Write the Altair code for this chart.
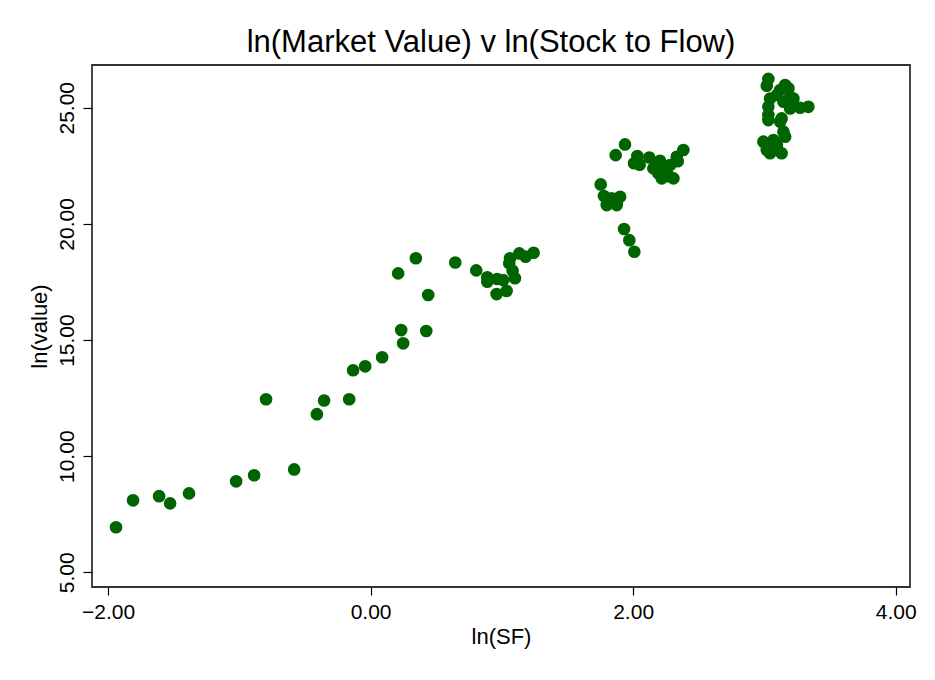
import altair as alt
import pandas as pd

ln_sf = [
    -1.939, -1.809, -1.611, -1.527, -1.383, -1.024, -0.887, -0.582, -0.796, -0.409,
    -0.354, -0.163, -0.133, -0.041, 0.088, 0.233, 0.248, 0.424, 0.439, 0.210,
    0.345, 0.645, 0.805, 0.889, 0.889, 0.965, 1.011, 0.960, 1.036, 1.100,
    1.082, 1.062, 1.056, 1.133, 1.181, 1.242,
    1.938, 1.867, 2.032, 2.007, 2.123, 2.205, 2.154, 2.230, 2.281, 2.218,
    2.307, 2.332, 2.383, 2.256, 2.192, 2.050, 2.270, 2.340, 1.753, 1.778,
    1.799, 1.837, 1.875, 1.901, 1.824, 1.931, 1.971, 2.009,
    3.030, 3.018, 3.158, 3.183, 3.120, 3.196, 3.221, 3.043, 3.145, 3.030,
    3.196, 3.272, 3.335, 3.095, 3.030, 3.030, 3.131, 3.120, 3.145, 3.158,
    2.992, 3.069, 3.095, 3.043, 3.131, 3.018,
]
ln_value = [
    6.94, 8.10, 8.28, 7.97, 8.40, 8.92, 9.18, 9.43, 12.45, 11.81,
    12.40, 12.45, 13.70, 13.87, 14.26, 15.43, 14.86, 15.39, 16.94, 17.87,
    18.52, 18.34, 18.00, 17.70, 17.51, 17.63, 17.58, 16.98, 17.11, 17.66,
    17.98, 18.52, 18.30, 18.73, 18.59, 18.76,
    23.42, 22.96, 22.92, 22.61, 22.86, 22.72, 22.39, 22.46, 22.53, 21.96,
    21.96, 22.89, 23.18, 22.25, 22.18, 22.55, 22.05, 22.70, 21.70, 21.20,
    20.81, 21.10, 20.81, 21.17, 20.95, 19.78, 19.30, 18.80,
    26.24, 25.95, 25.98, 25.84, 25.76, 25.47, 25.40, 25.40, 25.26, 25.04,
    24.97, 25.00, 25.04, 25.55, 24.69, 24.47, 24.54, 24.40, 23.97, 23.75,
    23.54, 23.61, 23.39, 23.04, 23.04, 23.18,
]
x_ticks = [-2, 0, 2, 4]
y_ticks = [5, 10, 15, 20, 25]

df = pd.DataFrame({"ln_sf": ln_sf, "ln_value": ln_value})

FONT = "Liberation Sans"

chart = (
    alt.Chart(df)
    .mark_circle(size=160, opacity=1, color="#006400")
    .encode(
        x=alt.X(
            "ln_sf:Q",
            title="ln(SF)",
            scale=alt.Scale(domain=[-2.122, 4.109], nice=False, zero=False),
            axis=alt.Axis(
                values=x_ticks, format=".2f", grid=False,
                tickSize=8, tickColor="#000", tickWidth=1.2,
                labelPadding=6, labelFontSize=21, labelFont=FONT, labelColor="#000",
                titleFontSize=22, titleFont=FONT, titleFontWeight="normal",
                titleColor="#000", titlePadding=4, domain=False,
            ),
        ),
        y=alt.Y(
            "ln_value:Q",
            title="ln(value)",
            scale=alt.Scale(domain=[4.37, 26.84], nice=False, zero=False),
            axis=alt.Axis(
                values=y_ticks, format=".2f", grid=False,
                tickSize=9, tickColor="#000", tickWidth=1.2,
                labelAngle=270, labelAlign="center", labelBaseline="alphabetic",
                labelPadding=10, labelFontSize=21, labelFont=FONT, labelColor="#000",
                titleFontSize=22, titleFont=FONT, titleFontWeight="normal",
                titleColor="#000", titlePadding=5, domain=False,
            ),
        ),
    )
    .properties(
        width=818,
        height=522,
        title=alt.TitleParams(
            "ln(Market Value) v ln(Stock to Flow)",
            font=FONT, fontSize=31, fontWeight="normal", color="#000",
            anchor="middle", dx=-10, dy=31, offset=6, baseline="bottom",
        ),
        autosize="none",
        padding={"left": 84, "top": 57, "right": 10, "bottom": 80},
    )
    .configure(background="white", view=alt.ViewConfig(stroke="#333", strokeWidth=1.8))
)

chart.save("out.html", embed_options={"renderer": "svg", "actions": False})
